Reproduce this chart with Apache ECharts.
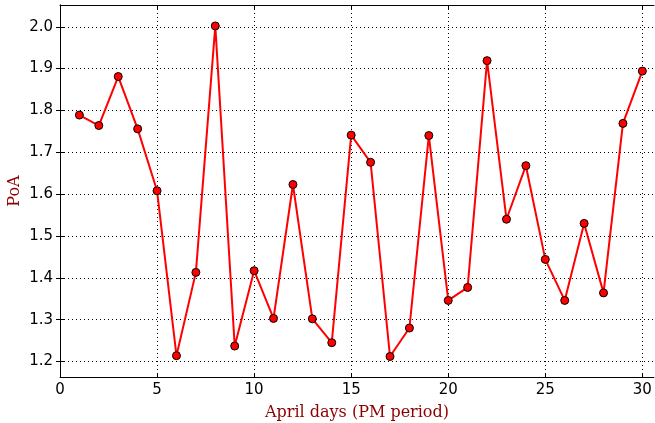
<!DOCTYPE html>
<html lang="en">
<head>
    <meta charset="UTF-8">
    <title>PoA</title>
    <script src="https://cdn.jsdelivr.net/npm/echarts@6/dist/echarts.min.js"></script>
    <style>
        html, body { margin: 0; padding: 0; background: #fff; }
    </style>
</head>
<body>
<div id="main" style="width:655px; height:423px;"></div>
<script>
    // data
    var days = [1,2,3,4,5,6,7,8,9,10,11,12,13,14,15,16,17,18,19,20,21,22,23,24,25,26,27,28,29,30];
    var poa = [1.789,1.764,1.881,1.756,1.608,1.214,1.413,2.002,1.237,1.417,
               1.303,1.623,1.302,1.245,1.741,1.676,1.212,1.280,1.740,1.346,
               1.377,1.919,1.540,1.668,1.444,1.346,1.530,1.364,1.769,1.894];
    var xTicks = [0,5,10,15,20,25,30];
    var yTicks = [1.2,1.3,1.4,1.5,1.6,1.7,1.8,1.9,2.0];

    var myChart = echarts.init(document.getElementById('main'));

    var tickStyle = { show: true, inside: true, length: 4, lineStyle: { color: '#000', width: 1 } };
    var dotted = { show: true, lineStyle: { color: '#000', width: 1, type: [1, 3] } };
    var labelFont = { color: '#000', fontSize: 15, fontFamily: 'DejaVu Sans' };

    var option = {
        animation: false,
        grid: { left: 60, right: 1, top: 5, bottom: 46, outerBoundsMode: 'none', containLabel: false },
        xAxis: [{
            type: 'value',
            min: 0, max: 30.6,
            position: 'bottom',
            name: 'April days (PM period)',
            nameLocation: 'middle',
            nameGap: 28,
            nameMoveOverlap: false,
            nameTextStyle: { color: '#8b0000', fontSize: 16, fontFamily: 'DejaVu Serif' },
            axisLine: { show: true, lineStyle: { color: '#000', width: 1 } },
            axisTick: Object.assign({ customValues: xTicks }, tickStyle),
            axisLabel: Object.assign({ customValues: xTicks, margin: 6 }, labelFont),
            splitLine: dotted
        }, {
            type: 'value',
            min: 0, max: 30.6,
            position: 'top',
            axisLine: { show: true, lineStyle: { color: '#000', width: 1 } },
            axisTick: Object.assign({ customValues: xTicks }, tickStyle),
            axisLabel: { show: false },
            splitLine: { show: false }
        }],
        yAxis: [{
            type: 'value',
            min: 1.163, max: 2.052,
            position: 'left',
            name: 'PoA',
            nameLocation: 'middle',
            nameGap: 37,
            nameMoveOverlap: false,
            nameTextStyle: { color: '#8b0000', fontSize: 16, fontFamily: 'DejaVu Serif' },
            axisLine: { show: true, lineStyle: { color: '#000', width: 1 } },
            axisTick: Object.assign({ customValues: yTicks }, tickStyle),
            axisLabel: Object.assign({
                customValues: yTicks, margin: 7,
                formatter: function (v) { return v.toFixed(1); }
            }, labelFont),
            splitLine: dotted
        }, {
            type: 'value',
            min: 1.163, max: 2.052,
            position: 'right',
            axisLine: { show: true, lineStyle: { color: '#000', width: 1 } },
            axisTick: Object.assign({ customValues: yTicks }, tickStyle),
            axisLabel: { show: false },
            splitLine: { show: false }
        }],
        series: [{
            type: 'line',
            xAxisIndex: 0,
            yAxisIndex: 0,
            data: days.map(function (d, i) { return [d, poa[i]]; }),
            lineStyle: { color: '#ff0000', width: 2 },
            symbol: 'circle',
            symbolSize: 8,
            itemStyle: { color: '#ff0000', borderColor: '#000', borderWidth: 1 }
        }]
    };

    myChart.setOption(option);
</script>
</body>
</html>
